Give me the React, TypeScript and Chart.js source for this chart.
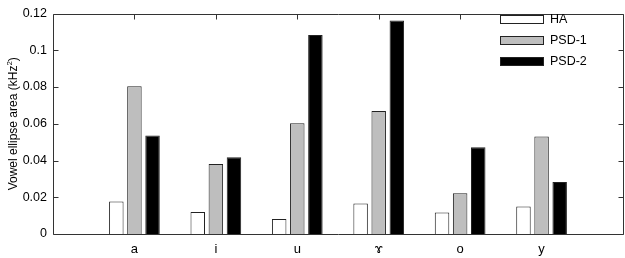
import React, { useEffect, useRef } from "react";
import { Chart, registerables } from "chart.js";

Chart.register(...registerables);

const categories = ["a", "i", "u", "ɤ", "o", "y"];
const seriesNames = ["HA", "PSD-1", "PSD-2"];
const haValues = [0.0177, 0.012, 0.0082, 0.0166, 0.0117, 0.015];
const psd1Values = [0.0804, 0.0381, 0.0603, 0.0669, 0.0222, 0.0531];
const psd2Values = [0.0536, 0.0418, 0.1083, 0.1162, 0.0472, 0.0283];
const yTicks = [0, 0.02, 0.04, 0.06, 0.08, 0.1, 0.12];
const fills = ["#ffffff", "#bebebe", "#000000"];
const yTitleMain = "Vowel ellipse area (kHz";
const yTitleSup = "2";
const yTitleEnd = ")";

const FONT = "'Liberation Sans', Arial, sans-serif";
const AXIS = "#333333";

const boxPlugin = {
  id: "matlabBox",
  beforeDatasetsDraw(chart: any) {
    const { ctx, chartArea } = chart;
    const xs = chart.scales.x;
    ctx.save();
    ctx.strokeStyle = AXIS;
    ctx.lineWidth = 1;
    ctx.beginPath();
    categories.forEach((_, i) => {
      const px = Math.round(xs.getPixelForValue(i + 1)) + 0.5;
      ctx.moveTo(px, chartArea.bottom);
      ctx.lineTo(px, chartArea.bottom - 5);
    });
    ctx.stroke();
    ctx.restore();
  },
  afterDatasetsDraw(chart: any) {
    const { ctx, chartArea } = chart;
    const xs = chart.scales.x;
    const ys = chart.scales.y;
    const l = Math.round(chartArea.left) + 0.5;
    const r = Math.round(chartArea.right) + 0.5;
    const t = Math.round(chartArea.top) + 0.5;
    const b = Math.round(chartArea.bottom) + 0.5;
    ctx.save();
    ctx.strokeStyle = AXIS;
    ctx.lineWidth = 1;
    ctx.beginPath();
    ctx.rect(l, t, r - l, b - t);
    yTicks.forEach((v) => {
      const py = Math.round(ys.getPixelForValue(v)) + 0.5;
      ctx.moveTo(l, py);
      ctx.lineTo(l + 5, py);
      ctx.moveTo(r, py);
      ctx.lineTo(r - 5, py);
    });
    categories.forEach((_, i) => {
      const px = Math.round(xs.getPixelForValue(i + 1)) + 0.5;
      ctx.moveTo(px, t);
      ctx.lineTo(px, t + 5);
    });
    ctx.stroke();

    // legend
    const x0 = 500;
    const sw = 43;
    const sh = 8;
    chart.data.datasets.forEach((ds: any, i: number) => {
      const cy = 19 + i * 21;
      ctx.fillStyle = ds.backgroundColor;
      ctx.fillRect(x0 + 0.5, cy - sh / 2 + 0.5, sw, sh);
      ctx.strokeStyle = "#222";
      ctx.strokeRect(x0 + 0.5, cy - sh / 2 + 0.5, sw, sh);
      ctx.fillStyle = "#000";
      ctx.font = `12.5px ${FONT}`;
      ctx.textBaseline = "middle";
      ctx.textAlign = "left";
      ctx.fillText(ds.label, x0 + sw + 7, cy + 1);
    });

    // y-axis title with superscript
    ctx.fillStyle = "#000";
    ctx.textBaseline = "alphabetic";
    ctx.textAlign = "left";
    const mainFont = `12px ${FONT}`;
    const supFont = `8px ${FONT}`;
    ctx.font = mainFont;
    const w1 = ctx.measureText(yTitleMain).width;
    const w3 = ctx.measureText(yTitleEnd).width;
    ctx.font = supFont;
    const w2 = ctx.measureText(yTitleSup).width;
    const total = w1 + w2 + w3;
    const cy = (chartArea.top + chartArea.bottom) / 2;
    ctx.translate(17, cy);
    ctx.rotate(-Math.PI / 2);
    let x = -total / 2;
    ctx.font = mainFont;
    ctx.fillText(yTitleMain, x, 0);
    x += w1;
    ctx.font = supFont;
    ctx.fillText(yTitleSup, x, -5);
    x += w2;
    ctx.font = mainFont;
    ctx.fillText(yTitleEnd, x, 0);
    ctx.restore();
  },
};

export default function App() {
  const ref = useRef<HTMLCanvasElement | null>(null);

  useEffect(() => {
    document.body.style.margin = "0";
    const all = [haValues, psd1Values, psd2Values];
    const chart = new Chart(ref.current as HTMLCanvasElement, {
      type: "bar",
      data: {
        datasets: seriesNames.map((name, k) => ({
          label: name,
          data: all[k].map((v, i) => ({ x: i + 1, y: v })),
          backgroundColor: fills[k],
          borderColor: "#222222",
          borderWidth: 1,
          categoryPercentage: 0.667,
          barPercentage: 0.8,
        })),
      },
      options: {
        animation: false,
        responsive: false,
        devicePixelRatio: 1,
        layout: { padding: { left: 0, top: 5, right: 2, bottom: 0 } },
        plugins: { legend: { display: false }, tooltip: { enabled: false } },
        scales: {
          x: {
            type: "linear",
            min: 0,
            max: 7,
            offset: false,
            grid: { display: false, drawTicks: false, offset: false },
            border: { display: false },
            afterFit: (s: any) => {
              s.height = 24;
            },
            afterBuildTicks: (s: any) => {
              s.ticks = categories.map((_, i) => ({ value: i + 1 }));
            },
            ticks: {
              autoSkip: false,
              maxRotation: 0,
              padding: 8,
              color: "#000",
              font: { family: FONT, size: 13 },
              callback: (v: any) => categories[Number(v) - 1] ?? "",
            },
          },
          y: {
            min: 0,
            max: 0.12,
            grid: { display: false, drawTicks: false },
            border: { display: false },
            afterFit: (s: any) => {
              s.width = 53;
            },
            afterBuildTicks: (s: any) => {
              s.ticks = yTicks.map((v) => ({ value: v }));
            },
            ticks: {
              padding: 6,
              color: "#000",
              font: { family: FONT, size: 12.5 },
              callback: (v: any) => String(Number(Number(v).toFixed(2))),
            },
          },
        },
      },
      plugins: [boxPlugin],
    } as any);
    return () => chart.destroy();
  }, []);

  return (
    <div style={{ position: "fixed", left: 0, top: 0, width: 625, height: 258, background: "#fff" }}>
      <canvas ref={ref} width={625} height={258} style={{ width: 625, height: 258 }} />
    </div>
  );
}
